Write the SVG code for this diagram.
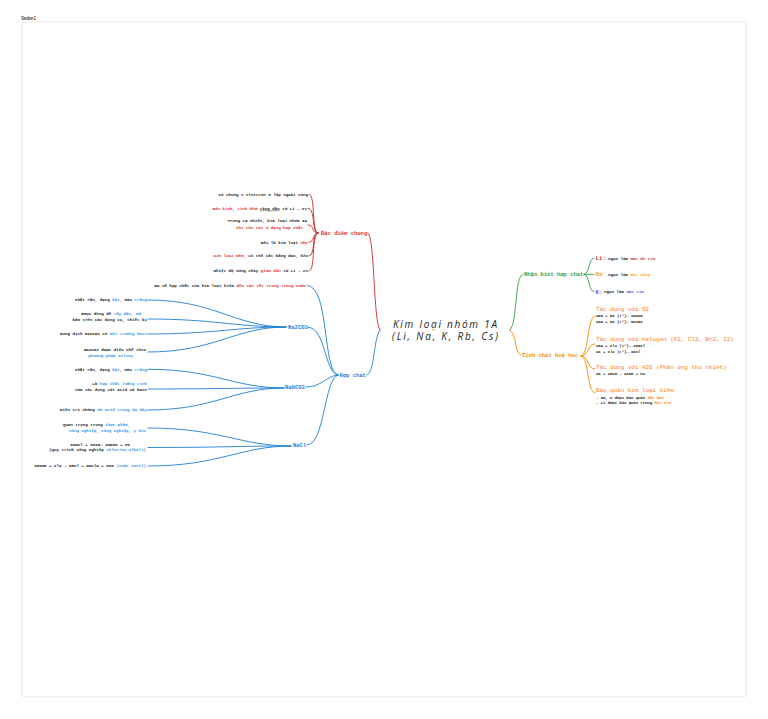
<svg xmlns="http://www.w3.org/2000/svg" width="768" height="719" viewBox="0 0 768 719">
<style>
.t{font-family:"Liberation Mono","DejaVu Sans Mono",monospace;font-size:4.15px;font-weight:bold;fill:#1e1e1e}
.f{font-family:"Liberation Mono","DejaVu Sans Mono",monospace;font-size:3.9px;font-weight:bold;fill:#1e1e1e}
.h{font-family:"Liberation Mono","DejaVu Sans Mono",monospace;font-size:5.5px;font-weight:bold}
.ti{font-family:"Liberation Mono","DejaVu Sans Mono",monospace;font-size:5.9px;fill:#fd7e14}
.e{text-anchor:end}
.r{fill:#e03131}
.b{fill:#339af0}
.o{fill:#fd7e14}
.y{fill:#fab005}
.p{fill:#7950f2}
.c path{fill:none;stroke-width:0.9;stroke-linecap:round}
.cr path{stroke:#c92a2a}
.cb path{stroke:#1c7ed6}
.cg path{stroke:#2f9e44}
.co path{stroke:#f08c00}
.big{font-family:"Liberation Mono","DejaVu Sans Mono",monospace;font-size:5.8px;font-weight:bold}
.ttl{font-family:"Open Sans",Lato,sans-serif;font-style:italic;font-size:10px;fill:#1e1e1e;text-anchor:middle}
</style>
<rect width="768" height="719" fill="#ffffff"/>
<rect x="22" y="22" width="724" height="675" rx="2" fill="#ffffff" stroke="#e3e3e3" stroke-width="0.8"/>
<text x="21" y="19.5" font-family="Liberation Sans,sans-serif" font-size="4.5" font-weight="bold" fill="#555" textLength="15">Section 1</text>

<g class="c">
<g class="cr">
<path d="M380,330 C373,322 375,236 368,233"/>
<path d="M309,194.3 C316,194.3 311,233 318,233"/>
<path d="M308,208.3 C316,208.3 311,233 318,233"/>
<path d="M308,225 C315,225 311,233 318,233"/>
<path d="M309,242.3 C315,242.3 312,233 318,233"/>
<path d="M309,256 C316,256 311,233 318,233"/>
<path d="M309,271 C316,271 311,233 318,233"/>
</g>
<g class="cb">
<path d="M380,330 C373,340 375,372 367,375"/>
<path d="M307,285.5 C330,285.5 322,372 338,375"/>
<path d="M308,327.3 C326,327.3 324,373 338,375"/>
<path d="M306,387 C322,387 326,376 338,375"/>
<path d="M307,445 C325,445 324,378 338,375"/>
<path d="M148,300 C215,300 235,327 286,327"/>
<path d="M148,319 C215,319 235,327 286,327"/>
<path d="M148,334 C215,334 235,327 286,327"/>
<path d="M148,352 C215,352 235,327 286,327"/>
<path d="M148,369.3 C215,369.3 233,388 284,388"/>
<path d="M148,389 C215,389 233,388 284,388"/>
<path d="M148,410 C215,410 233,388 284,388"/>
<path d="M148,428 C220,428 240,446 291,446"/>
<path d="M148,447.5 C220,447.5 240,446 291,446"/>
<path d="M148,466 C220,466 240,446 291,446"/>
</g>
<g class="cg">
<path d="M510,330 C518,322 514,276 523,274.3"/>
<path d="M584,274.3 C590,274.3 588,258.3 594,258.3"/>
<path d="M584,274.3 L594,274.3"/>
<path d="M584,274.3 C590,274.3 588,291.7 594,291.7"/>
</g>
<g class="co">
<path d="M510,330 C518,338 514,353 521,355"/>
<path d="M581,356 C589,356 587,316 595,316"/>
<path d="M581,356 C589,356 587,344 595,344"/>
<path d="M581,356 C589,356 587,369 595,369"/>
<path d="M581,356 C589,356 587,393 595,393"/>
</g>
</g>

<g id="root">
<text class="ttl" x="445" y="327.5" textLength="104">Kim loại nhóm 1A</text>
<text class="ttl" x="445" y="340" textLength="106">(Li, Na, K, Rb, Cs)</text>
</g>

<g id="dac-diem-chung">
<text class="h r" x="321" y="234.6">Đặc điểm chung</text>
<text class="t e" x="308" y="195.7">Có chung 1 electron ở lớp ngoài cùng</text>
<text class="t e" x="307" y="209.7"><tspan class="r">Bán kính, tính khử </tspan><tspan text-decoration="underline">tăng dần</tspan> từ Li → Cs</text>
<text class="t e" x="307" y="222.4">Trong tự nhiên, kim loại nhóm IA</text>
<text class="t e r" x="303" y="229.1">chỉ tồn tại ở dạng hợp chất</text>
<text class="t e" x="308" y="243.7">Đều là kim loại <tspan class="r">nhẹ</tspan></text>
<text class="t e" x="308" y="257.4"><tspan class="r">Kim loại mềm</tspan>, có thể cắt bằng dao, kéo</text>
<text class="t e" x="308" y="272.4">Nhiệt độ nóng chảy <tspan class="r">giảm dần</tspan> từ Li → Cs</text>
</g>

<g id="hop-chat">
<text class="h" x="339.5" y="376.9" fill="#1c7ed6">Hợp chất</text>
<text class="t e" x="306" y="286.9">Đa số hợp chất của kim loại kiềm <tspan class="r">đều tan tốt trong trong nước</tspan></text>
</g>

<g id="na2co3">
<text class="h" x="288" y="329.2" fill="#1c7ed6">Na2CO3</text>
<text class="t e" x="147" y="301.4">Chất rắn, dạng <tspan class="b">bột</tspan>, màu <tspan class="b">trắng</tspan></text>
<text class="t e" x="141" y="315.4">Được dùng để <tspan class="b">tẩy dầu, mỡ</tspan></text>
<text class="t e" x="147" y="320.7">bám trên các dụng cụ, thiết bị</text>
<text class="t e" x="147" y="335.4">Dung dịch Na2CO3 có <tspan class="b">môi trường base</tspan></text>
<text class="t e" x="146" y="350.7">Na2CO3 được điều chế theo</text>
<text class="t e b" x="133" y="356.7">phương pháp Solvay</text>
</g>

<g id="nahco3">
<text class="h" x="285" y="388.9" fill="#1c7ed6">NaHCO3</text>
<text class="t e" x="147" y="370.7">Chất rắn, dạng <tspan class="b">bột</tspan>, màu <tspan class="b">trắng</tspan></text>
<text class="t e" x="147" y="385.4">Là <tspan class="b">hợp chất lưỡng tính</tspan></text>
<text class="t e" x="147" y="390.7">vừa tác dụng với acid và base</text>
<text class="t e" x="147" y="411.4">Điều trị chứng <tspan class="b">dư acid trong dạ dày</tspan></text>
</g>

<g id="nacl">
<text class="h" x="293" y="446.9" fill="#1c7ed6">NaCl</text>
<text class="t e" x="130" y="425.7">Quan trọng trong <tspan class="b">thực phẩm,</tspan></text>
<text class="t e b" x="146" y="431.7">nông nghiệp, công nghiệp, y học</text>
<text class="t e" x="130" y="445.7">2NaCl + 2H2O→ 2NaOH + H2</text>
<text class="t e" x="146" y="451.1">(Quy trình công nghiệp <tspan class="b">Chlorine-Alkali)</tspan></text>
<text class="t e" x="146" y="467.1">2NaOH + Cl2 → NaCl + NaClO + H2O <tspan class="b">(nước Javel)</tspan></text>
</g>

<g id="nhan-biet">
<text class="h" x="524" y="276.2" fill="#2f9e44">Nhận biết hợp chất</text>
<text class="big r" x="595.5" y="260.3">Li:</text>
<text class="t" x="608" y="259.7">ngọn lửa <tspan class="r">màu đỏ tía</tspan></text>
<text class="big y" x="595.5" y="276.3">Na:</text>
<text class="t" x="608" y="275.7">ngọn lửa <tspan class="y">màu vàng</tspan></text>
<text class="big p" x="595.5" y="293.7">K:</text>
<text class="t" x="604" y="293.1">ngọn lửa <tspan class="p">màu tím</tspan></text>
</g>

<g id="tinh-chat">
<text class="h" x="522" y="356.9" fill="#f08c00">Tính chất hoá học</text>
<text class="ti" x="596" y="311.3">Tác dụng với O2</text>
<text class="f" x="596" y="317.4">4Na + O2 (t°)→ 2Na2O</text>
<text class="f" x="596" y="323.4">2Na + O2 (t°)→ Na2O2</text>
<text class="ti" x="596" y="341.3">Tác dụng với halogen (F2, Cl2, Br2, I2)</text>
<text class="f" x="596" y="347.4">2Na + Cl2 (t°)→ 2NaCl</text>
<text class="f" x="596" y="353.4">2K + Cl2 (t°)→ 2KCl</text>
<text class="ti" x="596" y="368.7">Tác dụng với H2O (Phản ứng thu nhiệt)</text>
<text class="f" x="596" y="375.4">2K + 2H2O → 2KOH + H2</text>
<text class="ti" x="596" y="392">Bảo quản kim loại kiềm</text>
<text class="f" x="596" y="398.7">- Na, K được bảo quản <tspan class="o">dầu hoả</tspan></text>
<text class="f" x="596" y="404.1">- Li được bảo quản trong <tspan class="o">khí trơ</tspan></text>
</g>
</svg>
